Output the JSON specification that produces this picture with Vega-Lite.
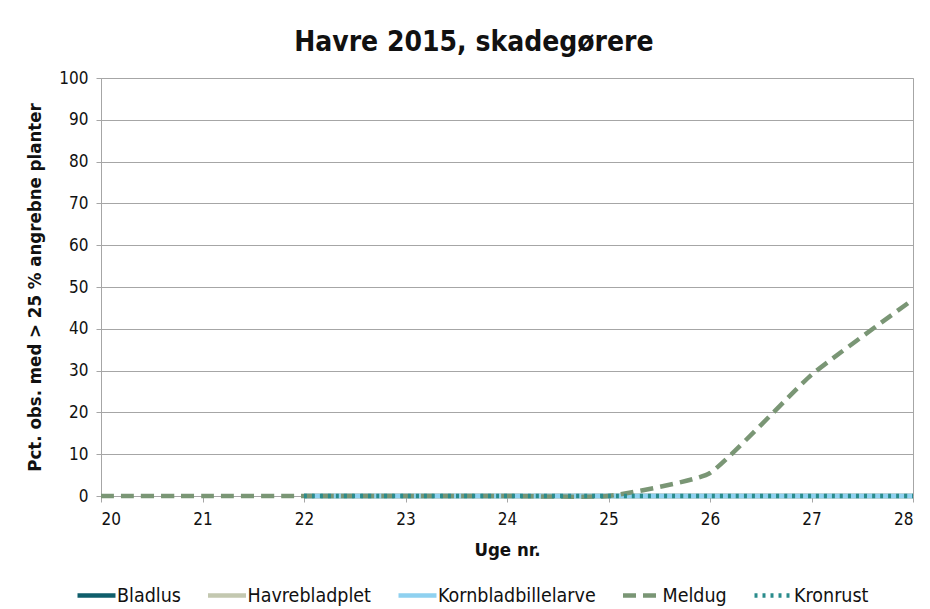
{
  "$schema": "https://vega.github.io/schema/vega-lite/v6.json",
  "width": 812,
  "height": 418,
  "autosize": "none",
  "padding": {"left": 101, "top": 78, "right": 17, "bottom": 113},
  "background": "white",
  "title": {
    "text": "Havre 2015, skadegørere",
    "font": "DejaVu Sans Condensed, Roboto",
    "fontSize": 28,
    "fontWeight": "bold",
    "color": "#111111",
    "anchor": "middle",
    "frame": "bounds",
    "offset": 12
  },
  "config": {
    "font": "DejaVu Sans Condensed, Roboto",
    "view": {"stroke": "#a6a6a6", "strokeWidth": 1}
  },
  "data": {
    "values": [
      {"uge": 22, "serie": "Bladlus", "pct": 0},
      {"uge": 23, "serie": "Bladlus", "pct": 0},
      {"uge": 24, "serie": "Bladlus", "pct": 0},
      {"uge": 25, "serie": "Bladlus", "pct": 0},
      {"uge": 26, "serie": "Bladlus", "pct": 0},
      {"uge": 27, "serie": "Bladlus", "pct": 0},
      {"uge": 28, "serie": "Bladlus", "pct": 0},
      {"uge": 22, "serie": "Havrebladplet", "pct": 0},
      {"uge": 23, "serie": "Havrebladplet", "pct": 0},
      {"uge": 24, "serie": "Havrebladplet", "pct": 0},
      {"uge": 25, "serie": "Havrebladplet", "pct": 0},
      {"uge": 26, "serie": "Havrebladplet", "pct": 0},
      {"uge": 27, "serie": "Havrebladplet", "pct": 0},
      {"uge": 28, "serie": "Havrebladplet", "pct": 0},
      {"uge": 22, "serie": "Kornbladbillelarve", "pct": 0},
      {"uge": 23, "serie": "Kornbladbillelarve", "pct": 0},
      {"uge": 24, "serie": "Kornbladbillelarve", "pct": 0},
      {"uge": 25, "serie": "Kornbladbillelarve", "pct": 0},
      {"uge": 26, "serie": "Kornbladbillelarve", "pct": 0},
      {"uge": 27, "serie": "Kornbladbillelarve", "pct": 0},
      {"uge": 28, "serie": "Kornbladbillelarve", "pct": 0},
      {"uge": 20, "serie": "Meldug", "pct": 0},
      {"uge": 21, "serie": "Meldug", "pct": 0},
      {"uge": 22, "serie": "Meldug", "pct": 0},
      {"uge": 23, "serie": "Meldug", "pct": 0},
      {"uge": 24, "serie": "Meldug", "pct": 0},
      {"uge": 25, "serie": "Meldug", "pct": 0},
      {"uge": 26, "serie": "Meldug", "pct": 5.5},
      {"uge": 27, "serie": "Meldug", "pct": 29},
      {"uge": 28, "serie": "Meldug", "pct": 47},
      {"uge": 22, "serie": "Kronrust", "pct": 0},
      {"uge": 23, "serie": "Kronrust", "pct": 0},
      {"uge": 24, "serie": "Kronrust", "pct": 0},
      {"uge": 25, "serie": "Kronrust", "pct": 0},
      {"uge": 26, "serie": "Kronrust", "pct": 0},
      {"uge": 27, "serie": "Kronrust", "pct": 0},
      {"uge": 28, "serie": "Kronrust", "pct": 0}
    ]
  },
  "mark": {"type": "line", "interpolate": "cardinal", "tension": 0.6, "strokeWidth": 4.5, "clip": false},
  "encoding": {
    "x": {
      "field": "uge",
      "type": "quantitative",
      "scale": {"domain": [20, 28], "nice": false, "zero": false},
      "axis": {
        "title": "Uge nr.",
        "values": [20, 21, 22, 23, 24, 25, 26, 27, 28],
        "format": "d",
        "grid": false,
        "domain": false,
        "tickColor": "#a6a6a6",
        "tickSize": 6,
        "labelFontSize": 17,
        "labelColor": "#111111",
        "labelPadding": 9,
        "titleFontSize": 18.5,
        "titleFontWeight": "bold",
        "titleColor": "#111111",
        "titlePadding": 13
      }
    },
    "y": {
      "field": "pct",
      "type": "quantitative",
      "scale": {"domain": [0, 100], "nice": false},
      "axis": {
        "title": "Pct. obs. med > 25 % angrebne planter",
        "values": [0, 10, 20, 30, 40, 50, 60, 70, 80, 90, 100],
        "grid": true,
        "gridColor": "#a6a6a6",
        "domainColor": "#a6a6a6",
        "tickColor": "#a6a6a6",
        "tickSize": 5,
        "labelFontSize": 17,
        "labelColor": "#111111",
        "labelPadding": 8,
        "titleFontSize": 18.5,
        "titleFontWeight": "bold",
        "titleColor": "#111111",
        "titlePadding": 14
      }
    },
    "color": {
      "field": "serie",
      "type": "nominal",
      "scale": {
        "domain": ["Bladlus", "Havrebladplet", "Kornbladbillelarve", "Meldug", "Kronrust"],
        "range": ["#0f5e6b", "#c3c8b0", "#8fd1f0", "#7a9675", "#2a8c8c"]
      },
      "legend": {
        "title": null,
        "orient": "none",
        "legendX": -26,
        "legendY": 496,
        "direction": "horizontal",
        "symbolType": "stroke",
        "symbolSize": 1444,
        "symbolStrokeWidth": 4.5,
        "labelFontSize": 19.5,
        "labelColor": "#111111",
        "labelOffset": -1,
        "columnPadding": 17.5
      }
    },
    "strokeDash": {
      "field": "serie",
      "type": "nominal",
      "scale": {
        "domain": ["Bladlus", "Havrebladplet", "Kornbladbillelarve", "Meldug", "Kronrust"],
        "range": [[1, 0], [1, 0], [1, 0], [13, 7], [3, 5]]
      },
      "legend": {
        "title": null,
        "orient": "none",
        "legendX": -26,
        "legendY": 496,
        "direction": "horizontal",
        "symbolType": "stroke",
        "symbolSize": 1444,
        "symbolStrokeWidth": 4.5,
        "labelFontSize": 19.5,
        "labelColor": "#111111",
        "labelOffset": -1,
        "columnPadding": 17.5
      }
    },
    "order": {"field": "serie"}
  }
}
